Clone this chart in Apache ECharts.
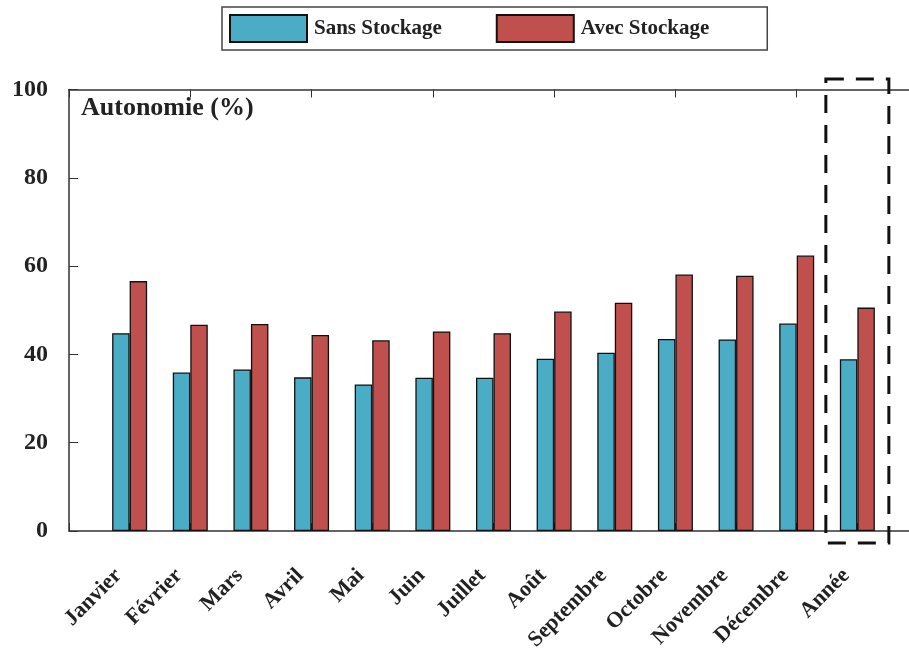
<!DOCTYPE html>
<html>
<head>
<meta charset="utf-8">
<script src="https://cdn.jsdelivr.net/npm/echarts@6/dist/echarts.min.js"></script>
<style>
  html, body { margin: 0; padding: 0; background: #fff; }
  #main { width: 909px; height: 661px; }
</style>
</head>
<body>
<div id="main"></div>
<script>
// mois + année
var categories = ['Janvier', 'Février', 'Mars', 'Avril', 'Mai', 'Juin', 'Juillet',
    'Août', 'Septembre', 'Octobre', 'Novembre', 'Décembre', 'Année'];
var sansStockage = [44.8, 35.9, 36.6, 34.8, 33.2, 34.7, 34.7, 39.0, 40.4, 43.5, 43.4, 47.0, 38.9];
var avecStockage = [56.6, 46.7, 46.9, 44.4, 43.2, 45.2, 44.8, 49.7, 51.7, 58.1, 57.8, 62.4, 50.6];
var yTicks = [0, 20, 40, 60, 80, 100];

var serif = '"Liberation Serif", "Times New Roman", serif';

// une case vide de chaque côté, l'axe va de 0 à 14
var axisCats = [''].concat(categories, ['']);
function pad(arr) {
    return ['-'].concat(arr, ['-']);
}

var chart = echarts.init(document.getElementById('main'));

var barStyle = function (color) {
    return {
        color: color,
        borderColor: '#111',
        borderWidth: 1.3
    };
};

var option = {
    animation: false,
    backgroundColor: '#fff',
    title: {
        text: 'Autonomie (%)',
        left: 81,
        top: 95,
        padding: 0,
        textStyle: {
            fontFamily: serif,
            fontWeight: 'bold',
            fontSize: 26,
            color: '#222'
        }
    },
    legend: {
        left: 222,
        top: 7,
        orient: 'horizontal',
        icon: 'rect',
        padding: [7, 58, 7, 7],
        itemWidth: 77,
        itemHeight: 27,
        itemGap: 54,
        borderColor: '#444',
        borderWidth: 1.5,
        backgroundColor: '#fff',
        textStyle: {
            fontFamily: serif,
            fontWeight: 'bold',
            fontSize: 21,
            color: '#222',
            padding: [0, 0, 6, 2]
        },
        data: ['Sans Stockage', 'Avec Stockage']
    },
    grid: {
        left: 69,
        top: 89.5,
        width: 849,
        height: 441.5,
        containLabel: false,
        outerBoundsMode: 'none'
    },
    xAxis: [
        {
            type: 'category',
            data: axisCats,
            boundaryGap: false,
            position: 'bottom',
            axisLine: { show: true, lineStyle: { color: '#333', width: 1.5 } },
            axisTick: { show: true, inside: true, length: 8, lineStyle: { color: '#333' } },
            axisLabel: {
                interval: 0,
                rotate: 45,
                margin: 30,
                padding: [0, 16, 0, 0],
                fontFamily: serif,
                fontWeight: 'bold',
                fontSize: 22,
                color: '#222'
            },
            splitLine: { show: false }
        },
        {
            type: 'category',
            data: axisCats,
            boundaryGap: false,
            position: 'top',
            axisLine: { show: true, lineStyle: { color: '#333', width: 1.5 } },
            axisTick: { show: true, inside: true, length: 8, lineStyle: { color: '#333' } },
            axisLabel: { show: false },
            splitLine: { show: false }
        }
    ],
    yAxis: {
        type: 'value',
        min: 0,
        max: 100,
        interval: 20,
        axisLine: { show: true, lineStyle: { color: '#333', width: 1.5 } },
        axisTick: { show: true, inside: true, length: 9, lineStyle: { color: '#333' } },
        splitLine: { show: false },
        axisLabel: {
            margin: 21,
            padding: [0, 0, 16, 0],
            fontFamily: serif,
            fontWeight: 'bold',
            fontSize: 24,
            color: '#222',
            customValues: yTicks
        }
    },
    series: [
        {
            name: 'Sans Stockage',
            type: 'bar',
            data: pad(sansStockage),
            barWidth: 17.5,
            barGap: '0%',
            itemStyle: barStyle('#4BACC6')
        },
        {
            name: 'Avec Stockage',
            type: 'bar',
            data: pad(avecStockage),
            barWidth: 17.5,
            barGap: '0%',
            itemStyle: barStyle('#C0504D')
        }
    ]
};

chart.setOption(option);

// cadre en pointillés autour de la colonne "Année"
var cx = chart.convertToPixel({ xAxisIndex: 0 }, 'Année');
chart.setOption({
    graphic: [{
        type: 'rect',
        z: 100,
        shape: { x: cx - 31.5, y: 79, width: 63, height: 464 },
        style: {
            fill: 'none',
            stroke: '#111',
            lineWidth: 3,
            lineDash: [18, 12]
        }
    }]
});
</script>
</body>
</html>
